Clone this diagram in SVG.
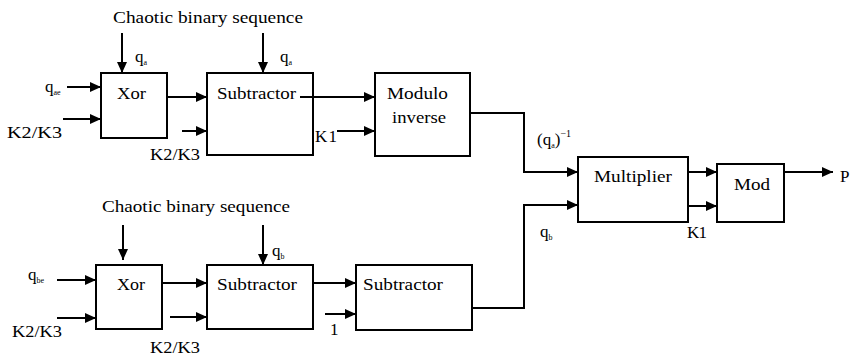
<svg xmlns="http://www.w3.org/2000/svg" width="852" height="356" viewBox="0 0 852 356">
<defs>
<marker id="arr" markerUnits="userSpaceOnUse" markerWidth="11" markerHeight="10" refX="11" refY="5" orient="auto">
<path d="M0,0 L11,5 L0,10 z" fill="#000"/>
</marker>
<style>
.box{fill:#fff;stroke:#000;stroke-width:2}
text{font-family:'Liberation Serif','DejaVu Serif',serif;font-size:17px;fill:#000}
.sub{font-size:8px}
.sup{font-size:10px}
.c{fill:none;stroke:#000;stroke-width:2}
.a{marker-end:url(#arr)}
</style>
</defs>
<rect width="852" height="356" fill="#fff"/>
<g id="connectors">
<path class="c a" d="M122,33 V73"/>
<path class="c a" d="M263,33 V73"/>
<path class="c a" d="M67,87 H101"/>
<path class="c a" d="M63,119 H101"/>
<path class="c a" d="M167,97 H207"/>
<path class="c a" d="M182,131 H207"/>
<path class="c a" d="M300,97 H375"/>
<path class="c a" d="M337,131 H375"/>
<path class="c a" d="M470,113 H524 V172 H578"/>
<path class="c a" d="M472,308 H524 V205 H578"/>
<path class="c a" d="M688,172 H717"/>
<path class="c a" d="M688,206 H717"/>
<path class="c a" d="M784,172 H833"/>
<path class="c a" d="M123,225 V260"/>
<path class="c a" d="M263,225 V265"/>
<path class="c a" d="M57,280 H96"/>
<path class="c a" d="M57,318 H96"/>
<path class="c a" d="M162,283 H207"/>
<path class="c a" d="M170,317 H207"/>
<path class="c a" d="M313,283 H356"/>
<path class="c a" d="M325,314 H356"/>
</g>
<g id="xor1"><rect class="box" x="101" y="73" width="66" height="65"/><text x="117" y="99" textLength="29" lengthAdjust="spacingAndGlyphs">Xor</text></g>
<g id="sub1"><rect class="box" x="207" y="73" width="106" height="82" style="fill:none"/><text x="217" y="99" textLength="79" lengthAdjust="spacingAndGlyphs">Subtractor</text></g>
<g id="modinv"><rect class="box" x="375" y="73" width="95" height="83"/><text x="387" y="99" textLength="61" lengthAdjust="spacingAndGlyphs">Modulo</text><text x="392" y="123" textLength="54" lengthAdjust="spacingAndGlyphs">inverse</text></g>
<g id="mult"><rect class="box" x="578" y="157" width="110" height="65"/><text x="594" y="182" textLength="78" lengthAdjust="spacingAndGlyphs">Multiplier</text></g>
<g id="mod"><rect class="box" x="717" y="164" width="67" height="58"/><text x="734" y="190" textLength="36" lengthAdjust="spacingAndGlyphs">Mod</text></g>
<g id="xor2"><rect class="box" x="96" y="265" width="66" height="64"/><text x="117" y="290" textLength="28" lengthAdjust="spacingAndGlyphs">Xor</text></g>
<g id="sub2"><rect class="box" x="207" y="265" width="106" height="64"/><text x="217" y="290" textLength="80" lengthAdjust="spacingAndGlyphs">Subtractor</text></g>
<g id="sub3"><rect class="box" x="356" y="265" width="116" height="65"/><text x="363" y="290" textLength="80" lengthAdjust="spacingAndGlyphs">Subtractor</text></g>
<g id="labels">
<text x="113" y="23" textLength="190" lengthAdjust="spacingAndGlyphs">Chaotic binary sequence</text>
<text x="102" y="212" textLength="188" lengthAdjust="spacingAndGlyphs">Chaotic binary sequence</text>
<text x="135" y="62">q<tspan class="sub" dy="3">a</tspan></text>
<text x="280" y="62">q<tspan class="sub" dy="3">a</tspan></text>
<text x="45" y="92">q<tspan class="sub" dy="3">ae</tspan></text>
<text x="28" y="280">q<tspan class="sub" dy="3">be</tspan></text>
<text x="272" y="256">q<tspan class="sub" dy="3">b</tspan></text>
<text x="540" y="237">q<tspan class="sub" dy="3">b</tspan></text>
<text x="537" y="145">(q<tspan class="sub" dy="3">a</tspan><tspan dy="-3">)</tspan><tspan class="sup" dy="-8">−1</tspan></text>
<text x="7" y="138" textLength="55" lengthAdjust="spacingAndGlyphs">K2/K3</text>
<text x="150" y="160" textLength="50" lengthAdjust="spacingAndGlyphs">K2/K3</text>
<text x="12" y="337" textLength="50" lengthAdjust="spacingAndGlyphs">K2/K3</text>
<text x="150" y="353" textLength="50" lengthAdjust="spacingAndGlyphs">K2/K3</text>
<text x="315" y="142" textLength="22" lengthAdjust="spacing">K1</text>
<text x="687" y="238" textLength="20" lengthAdjust="spacing">K1</text>
<text x="330" y="335">1</text>
<text x="840" y="182">P</text>
</g>
</svg>
